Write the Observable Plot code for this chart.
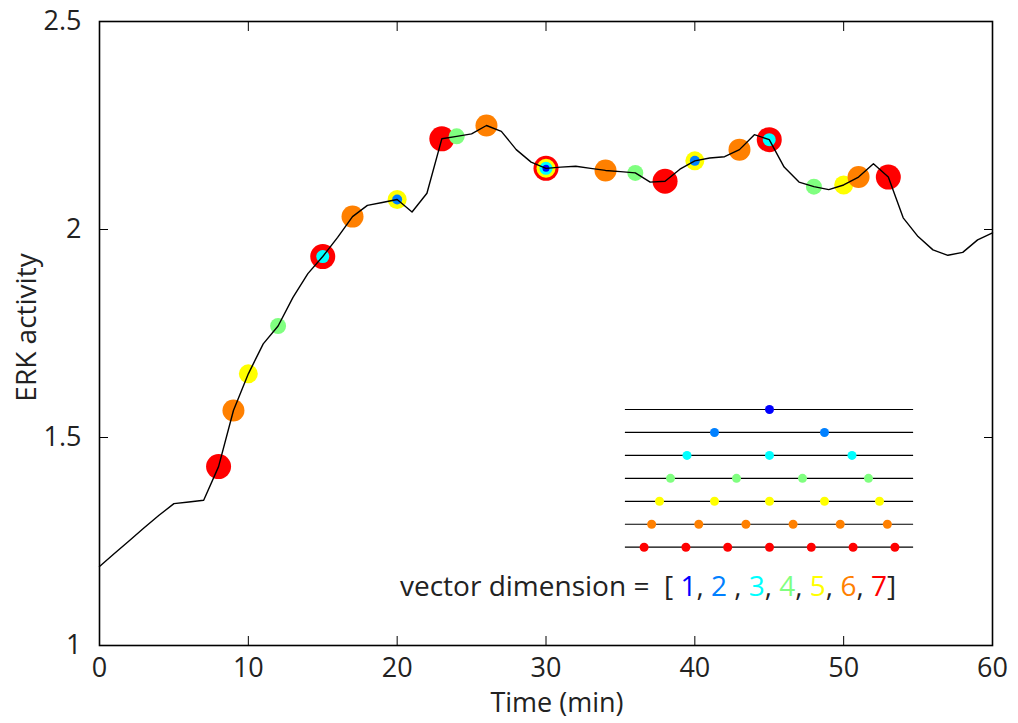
<!DOCTYPE html>
<html><head><meta charset="utf-8">
<script src="https://cdn.jsdelivr.net/npm/d3@7"></script>
<script src="https://cdn.jsdelivr.net/npm/@observablehq/plot@0.6"></script>
<style>
body{margin:0;background:#fff;}
#wrap{position:relative;width:1018px;height:723px;font-family:"Open Sans",sans-serif;}
#inset{position:absolute;left:560px;top:398px;}
svg{overflow:visible}
</style></head><body><div id="wrap"><div id="main"></div><div id="inset"></div></div>
<script>
// ERK activity trace (one value per minute)
const times = [0,1,2,3,4,5,6,7,8,9,10,11,12,13,14,15,16,17,18,19,20,21,22,23,24,25,26,27,28,29,30,
  31,32,33,34,35,36,37,38,39,40,41,42,43,44,45,46,47,48,49,50,51,52,53,54,55,56,57,58,59,60];
const erk = [1.19,1.221,1.252,1.283,1.313,1.341,1.345,1.349,1.43,1.565,1.653,1.725,1.768,1.837,1.894,1.935,
  1.981,2.031,2.058,2.065,2.072,2.042,2.087,2.218,2.224,2.230,2.250,2.236,2.192,2.162,2.147,
  2.150,2.152,2.147,2.142,2.139,2.136,2.114,2.116,2.145,2.165,2.172,2.175,2.192,2.228,2.216,
  2.150,2.114,2.103,2.096,2.107,2.126,2.158,2.126,2.028,1.983,1.951,1.938,1.945,1.975,1.992];

// sampling times marked for each vector dimension
const dims = [1,2,3,4,5,6,7];
const markTimes1 = [30];
const markTimes2 = [20,40];
const markTimes3 = [15,30,45];
const markTimes4 = [12,24,36,48];
const markTimes5 = [10,20,30,40,50];
const markTimes6 = [9,17,26,34,43,51];
const markTimes7 = [8,15,23,30,38,45,53];

// legend (inset) positions on a 0–60 scale
const legendPos1 = [30];
const legendPos2 = [20,40];
const legendPos3 = [15,30,45];
const legendPos4 = [12,24,36,48];
const legendPos5 = [10,20,30,40,50];
const legendPos6 = [8.57,17.14,25.71,34.29,42.86,51.43];
const legendPos7 = [7.2,14.8,22.4,30,37.6,45.2,52.8];

const xTicks = [0,10,20,30,40,50,60];
const yTicks = [1,1.5,2,2.5];
const dimColors = ["#0000ff","#0080ff","#00ffff","#80ff80","#ffff00","#ff8000","#ff0000"];

const series = times.map((t,i)=>({t, v: erk[i]}));
const markTimes = [markTimes1,markTimes2,markTimes3,markTimes4,markTimes5,markTimes6,markTimes7];
const markers = [];
markTimes.forEach((arr,k)=>arr.forEach(t=>markers.push({dim:dims[k], t, v: erk[times.indexOf(t)]})));
markers.sort((a,b)=>a.t-b.t || b.dim-a.dim);

const legendPos = [legendPos1,legendPos2,legendPos3,legendPos4,legendPos5,legendPos6,legendPos7];
const legendDots = [];
legendPos.forEach((arr,k)=>arr.forEach(p=>legendDots.push({dim:dims[k], p})));

const colorScale = {type:"ordinal", domain:dims, range:dimColors};
const txt = "#222";

const main = Plot.plot({
  width:1018, height:723,
  marginTop:21, marginRight:26, marginBottom:78, marginLeft:99,
  style:{fontFamily:"'Open Sans', sans-serif", fontSize:"27px", color:txt, background:"white"},
  x:{domain:[0,60], axis:null},
  y:{domain:[1,2.5], axis:null},
  color:colorScale,
  r:{type:"linear", domain:[1,7], range:[3.5,12.5]},
  marks:[
    Plot.dot(markers,{x:"t", y:"v", r:"dim", fill:"dim", sort:null}),
    Plot.line(series,{x:"t", y:"v", stroke:"black", strokeWidth:1.4}),
    Plot.frame({stroke:"black", strokeWidth:1.6}),
    Plot.axisY(yTicks,{anchor:"left", tickSize:9, dx:9, text:null, stroke:"black", label:null}),
    Plot.axisY(yTicks,{anchor:"right", tickSize:9, dx:-9, text:null, stroke:"black", label:null}),
    Plot.axisX(xTicks,{anchor:"bottom", tickSize:9, dy:-9, text:null, stroke:"black", label:null}),
    Plot.axisX(xTicks,{anchor:"top", tickSize:9, dy:9, text:null, stroke:"black", label:null}),
    Plot.axisY(yTicks,{anchor:"left", tickSize:0, tickPadding:18, tickFormat:d=>String(d), fontSize:27, fill:txt, label:null}),
    Plot.axisX(xTicks,{anchor:"bottom", tickSize:0, tickPadding:12, tickFormat:d=>String(d), fontSize:27, fill:txt, label:null}),
    Plot.text(["Time (min)"],{frameAnchor:"bottom", lineAnchor:"top", dy:47, dx:11, fontSize:27, fill:txt}),
    Plot.text(["ERK activity"],{frameAnchor:"left", textAnchor:"middle", rotate:-90, dx:-72, dy:-6, fontSize:28, fill:txt})
  ]
});
document.getElementById("main").appendChild(main);

const inset = Plot.plot({
  width:380, height:215, margin:0,
  style:{fontFamily:"'Open Sans', sans-serif", background:"transparent"},
  x:{domain:[0,60], range:[44,374], axis:null},
  y:{domain:[1,7], range:[11,148.7], axis:null},
  color:colorScale,
  marks:[
    Plot.ruleY(dims,{y:d=>d, x1:3.8, x2:56.2, stroke:"black", strokeWidth:1.2}),
    Plot.dot(legendDots,{x:"p", y:"dim", r:4.5, fill:"dim"})
  ]
});
document.getElementById("inset").appendChild(inset);

const t = d3.select(inset).append("text")
  .attr("x", 400-560).attr("y", 198)
  .attr("font-size", 28).attr("fill", txt)
  .attr("text-anchor","start")
  .style("white-space","pre");
const parts = [["vector dimension =  [ ", txt],["1",dimColors[0]],[", ",txt],["2",dimColors[1]],[" , ",txt],
  ["3",dimColors[2]],[", ",txt],["4",dimColors[3]],[", ",txt],["5",dimColors[4]],[", ",txt],
  ["6",dimColors[5]],[", ",txt],["7",dimColors[6]],["]",txt]];
parts.forEach(([s,c])=>t.append("tspan").attr("fill",c).text(s));
</script>
</body></html>
